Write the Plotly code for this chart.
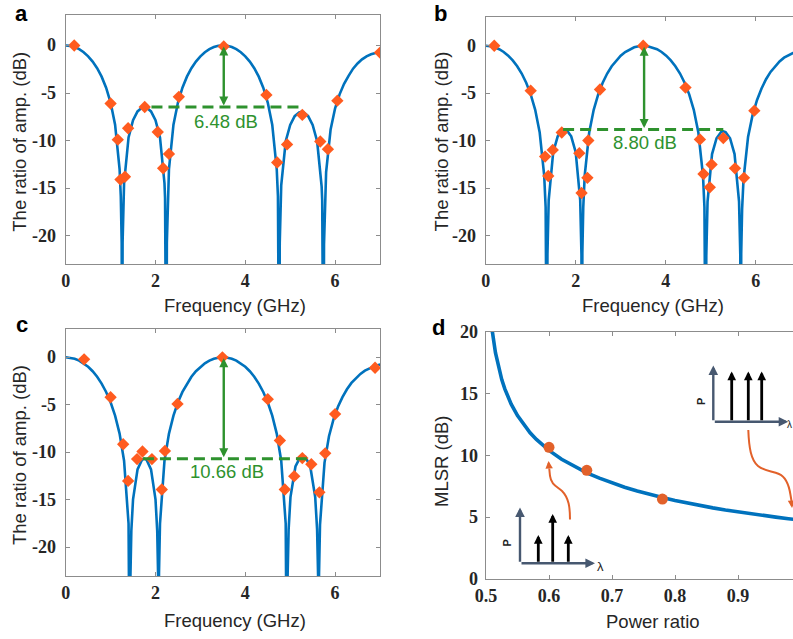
import plotly.graph_objects as go

# ---------------------------------------------------------------
# Data
# ---------------------------------------------------------------
# (a) normalised RF response, MLSR 6.48 dB
freq_a = [0.0, 0.1, 0.2, 0.3, 0.4, 0.5, 0.6, 0.7, 0.8, 0.9, 1.0, 1.1, 1.2, 1.227, 1.247, 1.257, 1.267, 1.287,
          1.3, 1.4, 1.5, 1.6, 1.7, 1.75, 1.8, 1.9, 2.0, 2.1, 2.2, 2.213, 2.233, 2.243, 2.253, 2.273, 2.3, 2.4,
          2.5, 2.6, 2.7, 2.8, 2.9, 3.0, 3.1, 3.2, 3.3, 3.4, 3.5,
          3.6, 3.7, 3.8, 3.9, 4.0, 4.1, 4.2, 4.3, 4.4, 4.5, 4.6, 4.7, 4.727, 4.747, 4.757, 4.767, 4.787,
          4.8, 4.9, 5.0, 5.1, 5.2, 5.25, 5.3, 5.4, 5.5, 5.6, 5.7, 5.713, 5.733, 5.743, 5.753, 5.773,
          5.8, 5.9, 6.0, 6.1, 6.2, 6.3, 6.4, 6.5, 6.6, 6.7, 6.8, 6.9, 7.0]
amp_a = [0.0, -0.04, -0.17, -0.39, -0.71, -1.14, -1.69, -2.39, -3.28, -4.44, -6.00, -8.33, -12.99, -15.85, -20.70, -40.0, -20.70, -16.04,
         -14.48, -9.67, -7.85, -6.93, -6.53, -6.48, -6.53, -6.93, -7.85, -9.67, -14.48, -16.04, -20.70, -40.0, -20.70, -15.85, -12.99, -8.33,
         -6.00, -4.44, -3.28, -2.39, -1.69, -1.14, -0.71, -0.39, -0.17, -0.04, 0.0,
         -0.04, -0.17, -0.39, -0.71, -1.14, -1.69, -2.39, -3.28, -4.44, -6.00, -8.33, -12.99, -15.85, -20.70, -40.0, -20.75, -16.2,
         -14.7, -10.07, -8.35, -7.43, -7.03, -6.98, -7.03, -7.43, -8.35, -10.07, -14.8, -16.3, -20.9, -40.0, -20.9, -16.1,
         -13.3, -8.83, -6.6, -5.14, -4.03, -3.19, -2.44, -1.89, -1.46, -1.14, -0.92, -0.79, -0.73]
meas_freq_a = [0.19, 1.00, 1.16, 1.22, 1.32, 1.39, 1.76, 2.05, 2.17, 2.30, 2.52, 3.52, 4.47, 4.71, 4.93, 5.27,
               5.67, 5.84, 6.05, 7.00]
meas_amp_a = [0.0, -6.1, -9.9, -14.1, -13.8, -8.7, -6.47, -9.1, -12.9, -11.4, -5.4, -0.1, -5.2, -12.3, -10.4, -7.3,
              -10.1, -10.9, -5.8, -0.75]

# (b) normalised RF response, MLSR 8.80 dB
freq_b = [0.0, 0.1, 0.2, 0.3, 0.4, 0.5, 0.6, 0.7, 0.8, 0.9, 1.0, 1.1, 1.2, 1.3, 1.332, 1.352, 1.362, 1.372,
          1.4, 1.5, 1.6, 1.7, 1.75, 1.8, 1.9, 2.0, 2.1, 2.128, 2.138, 2.148, 2.168, 2.2, 2.3, 2.4,
          2.5, 2.6, 2.7, 2.8, 2.9, 3.0, 3.1, 3.2, 3.3, 3.4, 3.5,
          3.602, 3.704, 3.807, 3.909, 4.011, 4.113, 4.215, 4.318, 4.420, 4.522, 4.624, 4.726, 4.829, 4.861,
          4.882, 4.892, 4.902, 4.930, 5.030, 5.130, 5.230, 5.280, 5.330, 5.430, 5.530, 5.630, 5.658, 5.668,
          5.678, 5.698, 5.730, 5.830, 5.930, 6.030, 6.130, 6.230, 6.330, 6.430, 6.530, 6.630, 6.730, 6.830,
          6.930, 7.030]
amp_b = [0.0, -0.04, -0.16, -0.36, -0.65, -1.04, -1.54, -2.15, -2.92, -3.89, -5.11, -6.74, -9.13, -13.67, -16.99, -21.78, -40.0, -21.97,
         -16.24, -11.20, -9.53, -8.88, -8.80, -8.88, -9.53, -11.20, -16.24, -21.97, -40.0, -21.78, -16.99, -13.67, -9.13, -6.74,
         -5.11, -3.89, -2.92, -2.15, -1.54, -1.04, -0.65, -0.36, -0.16, -0.04, 0.0,
         -0.04, -0.16, -0.36, -0.65, -1.04, -1.54, -2.15, -2.92, -3.89, -5.11, -6.74, -9.13, -13.67, -16.99,
         -21.78, -40.0, -22.1, -16.4, -11.4, -9.73, -9.08, -9.00, -9.08, -9.73, -11.4, -16.4, -22.1, -40.0,
         -21.9, -17.2, -14.0, -9.6, -7.3, -5.7, -4.49, -3.52, -2.75, -2.14, -1.64, -1.25, -0.96, -0.76,
         -0.64, -0.6]
meas_freq_b = [0.19, 1.00, 1.32, 1.39, 1.49, 1.69, 2.08, 2.13, 2.26, 2.28, 2.54, 3.50, 4.44, 4.76, 4.84, 4.98,
               5.02, 5.28, 5.54, 5.74, 5.97]
meas_amp_b = [0.0, -4.72, -11.66, -13.7, -10.96, -9.13, -11.3, -15.5, -13.9, -9.97, -4.6, 0.0, -4.4, -9.85, -13.5,
              -14.9, -12.5, -9.7, -12.9, -13.9, -6.83]

# (c) normalised RF response, MLSR 10.66 dB
freq_c = [0.0, 0.1, 0.2, 0.3, 0.4, 0.5, 0.6, 0.7, 0.8, 0.9, 1.0, 1.1, 1.2, 1.3, 1.4, 1.422, 1.432, 1.442, 1.462,
          1.5, 1.6, 1.7, 1.75, 1.8, 1.9, 2.0, 2.038, 2.058, 2.068, 2.078, 2.1, 2.2, 2.3, 2.4,
          2.5, 2.6, 2.7, 2.8, 2.9, 3.0, 3.1, 3.2, 3.3, 3.4, 3.5,
          3.6, 3.7, 3.8, 3.9, 4.0, 4.1, 4.2, 4.3, 4.4, 4.5, 4.6, 4.7, 4.8, 4.9, 4.922, 4.932, 4.943, 4.965,
          5.006, 5.117, 5.227, 5.282, 5.337, 5.447, 5.557, 5.599, 5.621, 5.632, 5.642, 5.664, 5.764, 5.864,
          5.964, 6.064, 6.164, 6.264, 6.364, 6.464, 6.564, 6.664, 6.764, 6.864, 6.964, 7.064]
amp_c = [0.0, -0.04, -0.15, -0.35, -0.63, -0.99, -1.46, -2.04, -2.76, -3.64, -4.73, -6.13, -8.02, -10.87, -17.50, -22.72, -40.0, -22.84, -18.22,
         -14.93, -11.78, -10.77, -10.66, -10.77, -11.78, -14.93, -18.22, -22.84, -40.0, -22.72, -17.50, -10.87, -8.02, -6.13,
         -4.73, -3.64, -2.76, -2.04, -1.46, -0.99, -0.63, -0.35, -0.15, -0.04, 0.0,
         -0.04, -0.15, -0.35, -0.63, -0.99, -1.46, -2.04, -2.76, -3.64, -4.73, -6.13, -8.02, -10.87, -17.50, -22.72, -40.0, -22.84, -18.1,
         -14.7, -11.48, -10.47, -10.36, -10.47, -11.48, -14.7, -18.1, -22.84, -40.0, -22.8, -17.6, -11.1, -8.3,
         -6.53, -5.2, -4.19, -3.36, -2.69, -2.16, -1.74, -1.4, -1.13, -0.95, -0.8, -0.72]
meas_freq_c = [0.41, 1.00, 1.28, 1.39, 1.59, 1.71, 1.92, 2.14, 2.21, 2.49, 3.49, 4.50, 4.77, 4.88, 5.09, 5.27,
               5.47, 5.65, 5.78, 6.00, 6.89]
meas_amp_c = [-0.21, -4.2, -9.14, -13.0, -10.7, -9.9, -10.7, -13.9, -9.84, -4.9, 0.0, -4.4, -8.75, -13.9, -12.5,
              -10.6, -11.25, -14.2, -10.1, -5.97, -1.09]

# main-lobe to side-lobe ratio of the three measured responses (a, b, c)
mlsr_abc = [6.48, 8.80, 10.66]

# (d) MLSR versus power ratio
ratio_curve = [0.505, 0.507, 0.51, 0.515, 0.52, 0.525, 0.53, 0.54, 0.55, 0.56, 0.57, 0.58, 0.60, 0.62, 0.64,
               0.66, 0.68, 0.70, 0.72, 0.74, 0.76, 0.78, 0.80, 0.82, 0.84, 0.86, 0.88, 0.90, 0.92, 0.94, 0.96,
               0.98, 1.00]
mlsr_curve = [23.03, 21.58, 20.04, 18.30, 17.08, 16.13, 15.36, 14.15, 13.22, 12.47, 11.84, 11.30, 10.41, 9.70,
              9.11, 8.60, 8.17, 7.78, 7.44, 7.13, 6.85, 6.60, 6.37, 6.15, 5.96, 5.77, 5.60, 5.44, 5.29, 5.15,
              5.02, 4.89, 4.77]
ratio_meas = [0.60, 0.66, 0.78]
mlsr_meas = [10.66, 8.80, 6.48]

# tick labels
freq_ticks = [0, 2, 4, 6]
freq_ticktext = ['0', '2', '4', '6']
amp_ticks = [-20, -15, -10, -5, 0]
amp_ticktext = ['-20', '-15', '-10', '-5', '0']
ratio_ticks = [0.5, 0.6, 0.7, 0.8, 0.9, 1.0]
ratio_ticktext = ['0.5', '0.6', '0.7', '0.8', '0.9', '1']
mlsr_ticks = [0, 5, 10, 15, 20]
mlsr_ticktext = ['0', '5', '10', '15', '20']

# ---------------------------------------------------------------
# Styling
# ---------------------------------------------------------------
BLUE = '#0072BD'
DIAMOND = '#FF5B1F'
DOT = '#E2612A'
GREEN = '#2E922E'
SLATE = '#475870'
AXIS = '#8C8C8C'
INK = '#262626'
SANS = 'Liberation Sans'
SERIF = 'Liberation Serif'
TICK_FONT = dict(family=SERIF, size=18, color=INK, weight='bold')

W, H = 793, 639


def px(x):
    return x / W


def py(y):
    return 1 - y / H


def axis(domain, rng, anchor, ticks, ticktext, mirror, labels=True):
    return dict(domain=domain, range=rng, anchor=anchor, showline=True, linecolor=AXIS, linewidth=1,
                mirror=mirror, ticks='inside', ticklen=4, tickwidth=1, tickcolor=AXIS,
                tickmode='array', tickvals=ticks, ticktext=ticktext, showticklabels=labels,
                tickfont=TICK_FONT, showgrid=False, zeroline=False, automargin=False,
                fixedrange=True, ticklabelstandoff=0)


def text(x, y, s, size=18.5, angle=0, bold=False, color=INK, family=SANS):
    return dict(x=px(x), y=py(y), xref='paper', yref='paper', text=s, showarrow=False, textangle=angle,
                font=dict(family=family, size=size, color=color, weight='bold' if bold else 'normal'),
                xanchor='center', yanchor='middle')


def y_labels(yref, right_px, ticks, ticktext):
    # value labels set just left of a vertical axis, right-aligned
    return [dict(x=px(right_px), y=v, xref='paper', yref=yref, text=t, showarrow=False,
                 xanchor='right', yanchor='middle', font=TICK_FONT)
            for v, t in zip(ticks, ticktext)]


fig = go.Figure()

# response panels a, b, c
resp = [
    ('x', 'y', freq_a, amp_a, meas_freq_a, meas_amp_a, mlsr_abc[0], (1.91, 5.20), (225.8, 121.3)),
    ('x2', 'y2', freq_b, amp_b, meas_freq_b, meas_amp_b, mlsr_abc[1], (1.72, 5.28), (645.0, 142.5)),
    ('x3', 'y3', freq_c, amp_c, meas_freq_c, meas_amp_c, mlsr_abc[2], (1.72, 5.43), (226.7, 471.0)),
]

annotations = []
shapes = []

for xa, ya, f, a, mf, ma, mlsr, (d0, d1), (lx, ly) in resp:
    fig.add_trace(go.Scatter(x=f, y=a, mode='lines', xaxis=xa, yaxis=ya,
                             line=dict(color=BLUE, width=2.6), hoverinfo='skip'))
    fig.add_trace(go.Scatter(x=mf, y=ma, mode='markers', xaxis=xa, yaxis=ya,
                             marker=dict(symbol='diamond', size=9.5, color=DIAMOND, line=dict(width=0))))
    shapes.append(dict(type='line', xref=xa, yref=ya, x0=d0, x1=d1, y0=-mlsr, y1=-mlsr,
                       line=dict(color=GREEN, width=3, dash='11px,6px')))
    annotations.append(dict(x=3.52, y=0, ax=3.52, ay=-mlsr, xref=xa, yref=ya, axref=xa, ayref=ya,
                            text='', showarrow=True, arrowhead=2, arrowside='end+start',
                            arrowsize=0.75, arrowwidth=2.4, arrowcolor=GREEN, standoff=1, startstandoff=0))
    annotations.append(text(lx, ly, f'{mlsr:.2f} dB', size=18.5, color=GREEN))

# panel d
fig.add_trace(go.Scatter(x=ratio_curve, y=mlsr_curve, mode='lines', xaxis='x4', yaxis='y4',
                         line=dict(color=BLUE, width=3.6), hoverinfo='skip'))
fig.add_trace(go.Scatter(x=ratio_meas, y=mlsr_meas, mode='markers', xaxis='x4', yaxis='y4',
                         marker=dict(symbol='circle', size=11, color=DOT, line=dict(width=0))))

# y-axis value labels
annotations += y_labels('y', 58, amp_ticks, amp_ticktext)
annotations += y_labels('y2', 478, amp_ticks, amp_ticktext)
annotations += y_labels('y3', 58, amp_ticks, amp_ticktext)
annotations += y_labels('y4', 480, mlsr_ticks, mlsr_ticktext)

# axis titles and panel letters
annotations += [
    text(20, 141.7, 'The ratio of amp. (dB)', angle=-90),
    text(441.7, 141.7, 'The ratio of amp. (dB)', angle=-90),
    text(20, 455, 'The ratio of amp. (dB)', angle=-90),
    text(441, 461, 'MLSR (dB)', angle=-90),
    text(235, 305, 'Frequency (GHz)'),
    text(652.5, 305, 'Frequency (GHz)'),
    text(235, 620, 'Frequency (GHz)'),
    text(652.5, 621, 'Power ratio'),
    text(21.5, 13.2, 'a', size=22, bold=True, color='#000000'),
    text(440.5, 13.2, 'b', size=22, bold=True, color='#000000'),
    text(21.5, 324.8, 'c', size=22, bold=True, color='#000000'),
    text(438.3, 327.6, 'd', size=22, bold=True, color='#000000'),
]


# spectrum sketches inside panel d
def arrow(x0, y0, x1, y1, color, width, size):
    return dict(x=px(x1), y=py(y1), xref='paper', yref='paper', ax=x0 - x1, ay=y0 - y1,
                axref='pixel', ayref='pixel', text='', showarrow=True, arrowhead=2,
                arrowsize=size, arrowwidth=width, arrowcolor=color, standoff=0)


def sketch(ox, oy, top, tone_x, tone_top, lam_x, lam_size):
    items = [arrow(ox, oy, ox, top, SLATE, 2.4, 0.8),
             arrow(ox, oy, ox + 75, oy, SLATE, 2.4, 0.8)]
    for tx, tt in zip(tone_x, tone_top):
        items.append(arrow(tx, oy, tx, tt, '#000000', 2.8, 0.62))
    items.append(text(ox - 13, (oy + top) / 2 + 8, 'P', size=11, angle=-90, bold=True, color='#222222'))
    items.append(text(lam_x, oy + 3, 'λ', size=lam_size, color='#222222'))
    return items


annotations += sketch(520, 563.3, 507.5, [538.3, 552.7, 568.3], [535, 514, 535], 600.5, 13)
annotations += sketch(713.3, 421.7, 365.5, [731.7, 748.3, 761.7], [371.5, 371.5, 371.5], 789.6, 10)


def path_px(cmds):
    out = []
    for c in cmds:
        if isinstance(c, str):
            out.append(c)
        else:
            out.append(f'{px(c[0]):.5f},{py(c[1]):.5f}')
    return ' '.join(out)


curl1 = path_px(['M', (570, 519.5), 'C', (570, 508), (569, 498), (562, 491),
                 'C', (556, 486), (551, 484), (550, 476), 'L', (549.3, 469)])
curl2 = path_px(['M', (748.3, 430), 'C', (749, 448), (751, 460), (758, 466),
                 'C', (764, 471), (772, 471), (779, 474), 'C', (786, 477), (789, 485), (790.5, 495),
                 'L', (791.5, 501)])
for p in (curl1, curl2):
    shapes.append(dict(type='path', xref='paper', yref='paper', path=p,
                       line=dict(color=DOT, width=2)))
annotations.append(arrow(549.3, 470, 548.5, 461, DOT, 2, 0.75))
annotations.append(arrow(791.5, 500, 792.6, 508, DOT, 2, 0.75))

# ---------------------------------------------------------------
# Layout
# ---------------------------------------------------------------
fig.update_layout(
    width=W, height=H, margin=dict(l=0, r=0, t=0, b=0),
    paper_bgcolor='white', plot_bgcolor='white', showlegend=False, template='none',
    xaxis=axis([px(65.7), px(380)], [0, 7], 'y', freq_ticks, freq_ticktext, 'ticks'),
    yaxis=axis([py(264.3), py(15)], [-23, 3.2], 'x', amp_ticks, amp_ticktext, 'ticks', False),
    xaxis2=axis([px(485.7), 1.0], [0, 6.829], 'y2', freq_ticks, freq_ticktext, 'ticks'),
    yaxis2=axis([py(264.3), py(17.3)], [-23, 3], 'x2', amp_ticks, amp_ticktext, False, False),
    xaxis3=axis([px(65.7), px(380)], [0, 7], 'y3', freq_ticks, freq_ticktext, 'ticks'),
    yaxis3=axis([py(576), py(329.3)], [-23, 2.95], 'x3', amp_ticks, amp_ticktext, 'ticks', False),
    xaxis4=axis([px(486), 1.0], [0.5, 0.9873], 'y4', ratio_ticks, ratio_ticktext, 'ticks'),
    yaxis4=axis([py(579.3), py(331.7)], [0, 20], 'x4', mlsr_ticks, mlsr_ticktext, False, False),
    annotations=annotations,
    shapes=shapes,
)

fig.write_html('out.html')
